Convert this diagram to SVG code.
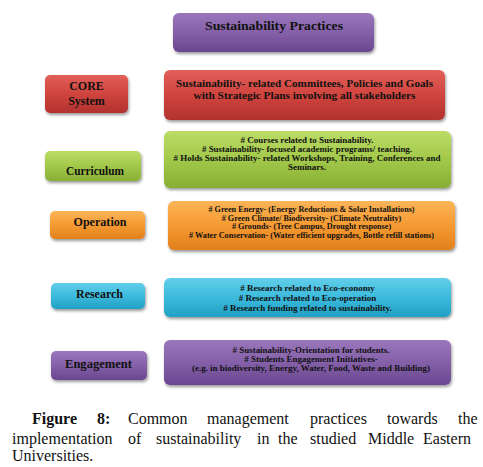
<svg xmlns="http://www.w3.org/2000/svg" width="483" height="467" viewBox="0 0 483 467">
<style>
.t{font-family:"Liberation Serif","Times New Roman",serif;font-weight:bold;fill:#111;text-anchor:middle}
.l{font-size:13px}
.cap{font-family:"Liberation Serif","Times New Roman",serif;font-size:16px;fill:#111}
.b{font-weight:bold}
.box{filter:url(#sh)}
</style>
<defs>
<filter id="sh" x="-10%" y="-20%" width="125%" height="150%">
<feDropShadow dx="1" dy="2" stdDeviation="1.5" flood-color="#000" flood-opacity="0.4"/>
</filter>
<linearGradient id="gp" x1="0" y1="0" x2="0" y2="1"><stop offset="0" stop-color="#9a76bc"/><stop offset="0.5" stop-color="#8460a8"/><stop offset="1" stop-color="#6a4690"/></linearGradient>
<linearGradient id="gr" x1="0" y1="0" x2="0" y2="1"><stop offset="0" stop-color="#e2605a"/><stop offset="0.5" stop-color="#d0443e"/><stop offset="1" stop-color="#b2322e"/></linearGradient>
<linearGradient id="gg" x1="0" y1="0" x2="0" y2="1"><stop offset="0" stop-color="#bcdc66"/><stop offset="0.5" stop-color="#a2c84a"/><stop offset="1" stop-color="#88ae34"/></linearGradient>
<linearGradient id="go" x1="0" y1="0" x2="0" y2="1"><stop offset="0" stop-color="#fcb458"/><stop offset="0.5" stop-color="#f59a32"/><stop offset="1" stop-color="#e2801c"/></linearGradient>
<linearGradient id="gc" x1="0" y1="0" x2="0" y2="1"><stop offset="0" stop-color="#62cfea"/><stop offset="0.5" stop-color="#3cbadc"/><stop offset="1" stop-color="#20a0c4"/></linearGradient>
</defs>

<g id="title">
<rect class="box" x="173" y="13" width="201" height="39" rx="6" fill="url(#gp)"/>
<text class="t" x="274" y="30" font-size="13" textLength="138" lengthAdjust="spacingAndGlyphs">Sustainability Practices</text>
</g>

<g id="core">
<rect class="box" x="45" y="75" width="83" height="38" rx="5" fill="url(#gr)"/>
<text class="t" x="86.5" y="90" font-size="12">CORE</text>
<text class="t" x="86.5" y="105" font-size="12">System</text>
</g>
<g id="core-detail">
<rect class="box" x="164" y="70" width="281" height="50" rx="6" fill="url(#gr)"/>
<text class="t" x="304.5" y="87" font-size="11" textLength="257" lengthAdjust="spacingAndGlyphs">Sustainability- related Committees, Policies and Goals</text>
<text class="t" x="304.5" y="99" font-size="11" textLength="222" lengthAdjust="spacingAndGlyphs">with Strategic Plans involving all stakeholders</text>
</g>

<g id="curriculum">
<rect class="box" x="45" y="151" width="96" height="30" rx="5" fill="url(#gg)"/>
<text class="t l" x="95" y="175" textLength="58" lengthAdjust="spacingAndGlyphs">Curriculum</text>
</g>
<g id="curriculum-detail">
<rect class="box" x="164" y="131" width="287" height="57" rx="6" fill="url(#gg)"/>
<g transform="translate(307,0) scale(1.12,1)" font-size="8">
<text class="t" x="0" y="143"># Courses related to Sustainability.</text>
<text class="t" x="0" y="152"># Sustainability- focused academic programs/ teaching.</text>
<text class="t" x="0" y="161"># Holds Sustainability- related Workshops, Training, Conferences and</text>
<text class="t" x="0" y="170">Seminars.</text>
</g>
</g>

<g id="operation">
<rect class="box" x="50" y="211" width="95" height="28" rx="5" fill="url(#go)"/>
<text class="t l" x="100" y="226" textLength="53" lengthAdjust="spacingAndGlyphs">Operation</text>
</g>
<g id="operation-detail">
<rect class="box" x="168" y="201" width="287" height="49" rx="6" fill="url(#go)"/>
<g transform="translate(311.5,0) scale(1.09,1)" font-size="7.5">
<text class="t" x="0" y="212.5"># Green Energy- (Energy Reductions &amp; Solar Installations)</text>
<text class="t" x="0" y="221"># Green Climate/ Biodiversity- (Climate Neutrality)</text>
<text class="t" x="0" y="229.5"># Grounds- (Tree Campus, Drought response)</text>
<text class="t" x="0" y="238"># Water Conservation- (Water efficient upgrades, Bottle refill stations)</text>
</g>
</g>

<g id="research">
<rect class="box" x="51" y="283" width="94" height="26" rx="5" fill="url(#gc)"/>
<text class="t l" x="99.5" y="298" textLength="47" lengthAdjust="spacingAndGlyphs">Research</text>
</g>
<g id="research-detail" font-size="9">
<rect class="box" x="164" y="278" width="287" height="39" rx="6" fill="url(#gc)"/>
<text class="t" x="307.5" y="291"># Research related to Eco-economy</text>
<text class="t" x="307.5" y="301"># Research related to Eco-operation</text>
<text class="t" x="307.5" y="311"># Research funding related to sustainability.</text>
</g>

<g id="engagement">
<rect class="box" x="51" y="351" width="96" height="29" rx="5" fill="url(#gp)"/>
<text class="t l" x="98.5" y="368" textLength="67" lengthAdjust="spacingAndGlyphs">Engagement</text>
</g>
<g id="engagement-detail">
<rect class="box" x="164" y="340" width="287" height="45" rx="6" fill="url(#gp)"/>
<g transform="translate(311,0) scale(1.12,1)" font-size="8">
<text class="t" x="0" y="353.5"># Sustainability-Orientation for students.</text>
<text class="t" x="0" y="362.5"># Students Engagement Initiatives-</text>
<text class="t" x="0" y="371.5">(e.g. in biodiversity, Energy, Water, Food, Waste and Building)</text>
</g>
</g>

<g id="connectors"></g>

<g id="caption">
<text class="cap b" x="32" y="424">Figure</text>
<text class="cap b" x="97" y="424">8:</text>
<text class="cap" x="128" y="424">Common</text>
<text class="cap" x="207" y="424">management</text>
<text class="cap" x="310" y="424">practices</text>
<text class="cap" x="387" y="424">towards</text>
<text class="cap" x="458" y="424">the</text>
<text class="cap" x="12" y="444">implementation</text>
<text class="cap" x="128" y="444">of</text>
<text class="cap" x="156" y="444">sustainability</text>
<text class="cap" x="257" y="444">in</text>
<text class="cap" x="278" y="444">the</text>
<text class="cap" x="310" y="444">studied</text>
<text class="cap" x="368" y="444">Middle</text>
<text class="cap" x="423" y="444">Eastern</text>
<text class="cap" x="12" y="461">Universities.</text>
</g>
</svg>
